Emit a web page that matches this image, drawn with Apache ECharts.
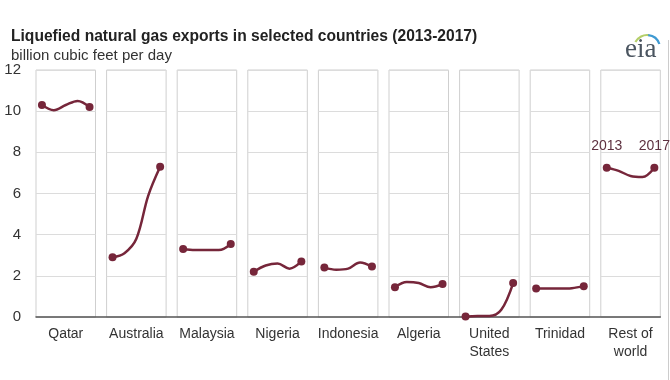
<!DOCTYPE html>
<html>
<head>
<meta charset="utf-8">
<script src="https://cdn.jsdelivr.net/npm/echarts@6/dist/echarts.min.js"></script>
<style>html,body{margin:0;padding:0;background:#fff;}#c{width:670px;height:380px;}</style>
</head>
<body>
<div id="c"></div>
<script>
const years = ['2013', '2014', '2015', '2016', '2017'];
const countries = ['Qatar', 'Australia', 'Malaysia', 'Nigeria', 'Indonesia', 'Algeria', 'United\nStates', 'Trinidad', 'Rest of\nworld'];
const qatar = [10.3, 10.05, 10.3, 10.5, 10.2];
const australia = [2.9, 3.1, 3.8, 5.9, 7.3];
const malaysia = [3.3, 3.25, 3.25, 3.25, 3.55];
const nigeria = [2.2, 2.5, 2.6, 2.35, 2.7];
const indonesia = [2.4, 2.3, 2.35, 2.65, 2.45];
const algeria = [1.45, 1.7, 1.65, 1.45, 1.6];
const unitedStates = [0.02, 0.05, 0.05, 0.35, 1.65];
const trinidad = [1.38, 1.38, 1.38, 1.4, 1.5];
const restOfWorld = [7.25, 7.1, 6.85, 6.8, 7.25];
const yTicks = [0, 2, 4, 6, 8, 10, 12];

const seriesValues = [qatar, australia, malaysia, nigeria, indonesia, algeria, unitedStates, trinidad, restOfWorld];

(function () {
const FONT = '"Liberation Sans", Arial, sans-serif';
const LINE = '#76263a';
const n = countries.length;
const left0 = 36, pitch = 70.6, pw = 59.5, gTop = 70, bottomY = 317;

const grids = [], xAxes = [], yAxes = [], series = [];
for (let i = 0; i < n; i++) {
  grids.push({
    left: left0 + i * pitch, width: pw, top: gTop, height: bottomY - gTop,
    show: true, borderColor: '#cfcfcf', borderWidth: 1, backgroundColor: '#fff'
  });
  xAxes.push({
    gridIndex: i, type: 'category', data: years, boundaryGap: true,
    axisLine: { show: false }, axisTick: { show: false }, axisLabel: { show: false },
    splitLine: { show: false },
    name: countries[i], nameLocation: 'middle', nameGap: 8,
    nameTextStyle: { fontFamily: FONT, fontSize: 14, color: '#333', lineHeight: 18, verticalAlign: 'top' }
  });
  yAxes.push({
    gridIndex: i, type: 'value', min: yTicks[0], max: yTicks[yTicks.length - 1], interval: 2,
    axisLine: { show: false }, axisTick: { show: false },
    axisLabel: { show: i === 0, fontFamily: FONT, fontSize: 15, color: '#333', margin: 15 },
    splitLine: { show: true, lineStyle: { color: '#dcdcdc', width: 1 } }
  });
  const last = i === n - 1;
  series.push({
    type: 'line', xAxisIndex: i, yAxisIndex: i, smooth: 0.35,
    showSymbol: true, showAllSymbol: true,
    lineStyle: { color: LINE, width: 2.5 },
    itemStyle: { color: LINE },
    symbolSize: 8,
    z: 5,
    data: seriesValues[i].map((v, k) => {
      const end = k === 0 || k === seriesValues[i].length - 1;
      const item = { value: v, symbol: end ? 'circle' : 'none' };
      if (last && end) {
        item.label = { show: true, position: 'top', distance: 11, formatter: '{b}',
          fontFamily: FONT, fontSize: 14, color: '#5e3140' };
      }
      return item;
    })
  });
}
grids.push({ left: left0, width: (n - 1) * pitch + pw, top: gTop, height: bottomY - gTop, show: false });
xAxes.push({ gridIndex: n, type: 'category', data: countries, axisLine: { show: true, lineStyle: { color: '#555', width: 1.5 } },
  axisTick: { show: false }, axisLabel: { show: false }, splitLine: { show: false } });
yAxes.push({ gridIndex: n, type: 'value', min: 0, max: 12, show: false });

const chart = echarts.init(document.getElementById('c'), null, { renderer: 'canvas' });
chart.setOption({
  backgroundColor: '#fff',
  animation: false,
  title: [
    { text: 'Liquefied natural gas exports in selected countries (2013-2017)', left: 6, top: 24,
      textStyle: { fontFamily: FONT, fontSize: 15.6, fontWeight: 'bold', color: '#222' } },
    { text: 'billion cubic feet per day', left: 6, top: 43,
      textStyle: { fontFamily: FONT, fontSize: 15, fontWeight: 'normal', color: '#333' } }
  ],
  graphic: [
    { type: 'arc', shape: { cx: 647, cy: 48, r: 13, startAngle: -Math.PI * 0.85, endAngle: -Math.PI * 0.45 },
      style: { stroke: '#b5cf6a', lineWidth: 2.2, fill: null }, silent: true },
    { type: 'arc', shape: { cx: 647, cy: 48, r: 13, startAngle: -Math.PI * 0.47, endAngle: -Math.PI * 0.1 },
      style: { stroke: '#3f9ad2', lineWidth: 2.2, fill: null }, silent: true },
    { type: 'text', x: 625, y: 50, silent: true,
      style: { text: 'eia', font: '27px "Liberation Serif", "DejaVu Serif", serif', fill: '#4b5560', verticalAlign: 'middle', align: 'left' } },
    { type: 'line', shape: { x1: 668.5, y1: 40, x2: 668.5, y2: 380 }, style: { stroke: '#cccccc', lineWidth: 1 }, silent: true }
  ],
  grid: grids,
  xAxis: xAxes,
  yAxis: yAxes,
  series: series
});
})();
</script>
</body>
</html>
